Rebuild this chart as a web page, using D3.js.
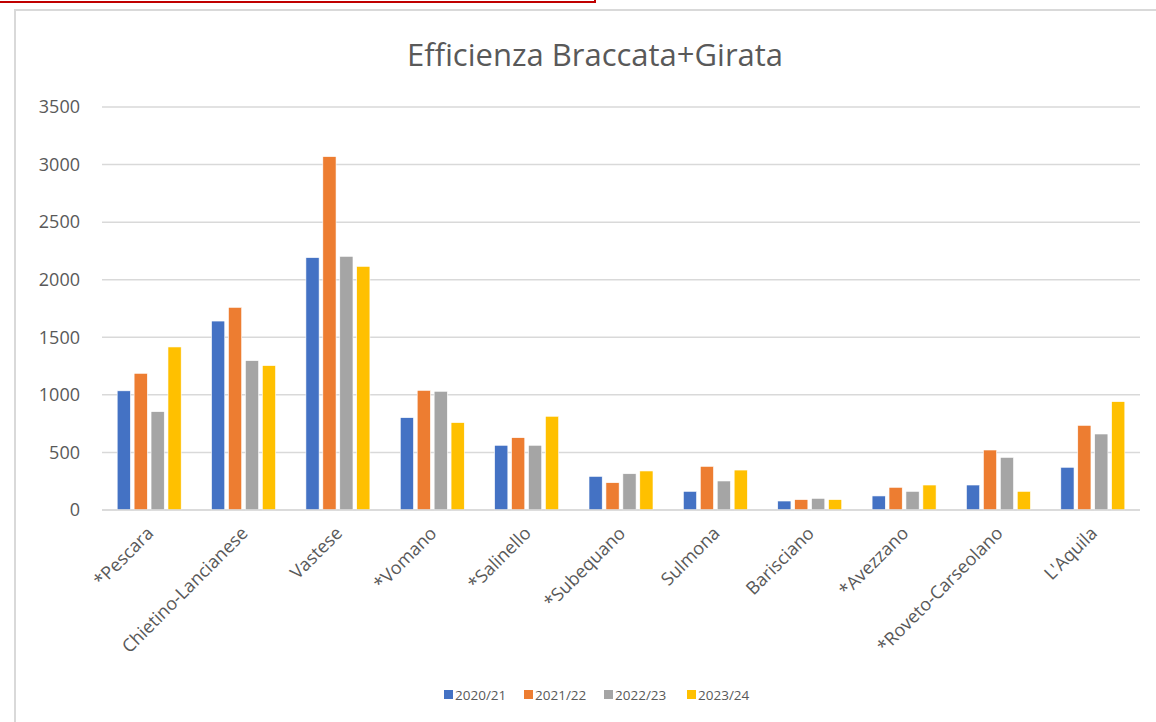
<!DOCTYPE html>
<html>
<head>
<meta charset="utf-8">
<script src="https://cdn.jsdelivr.net/npm/d3@7"></script>
<style>
  html, body { margin: 0; padding: 0; background: #fff; }
  svg { display: block; font-family: "Open Sans", "Noto Sans", sans-serif; }
</style>
</head>
<body>
<svg id="chart" width="1156" height="722"></svg>
<script>
const categories = ["*Pescara", "Chietino-Lancianese", "Vastese", "*Vomano", "*Salinello", "*Subequano", "Sulmona", "Barisciano", "*Avezzano", "*Roveto-Carseolano", "L'Aquila"];
const seriesNames = ["2020/21", "2021/22", "2022/23", "2023/24"];
const s2020 = [1035, 1641, 2192, 802, 562, 292, 162, 78, 122, 217, 371];
const s2021 = [1187, 1760, 3069, 1039, 628, 237, 379, 90, 197, 521, 735];
const s2022 = [854, 1297, 2203, 1031, 562, 315, 252, 101, 162, 457, 660];
const s2023 = [1416, 1254, 2116, 759, 814, 339, 347, 90, 217, 162, 941];
const yTicks = [0, 500, 1000, 1500, 2000, 2500, 3000, 3500];
const colors = ["#4472c4", "#ed7d31", "#a5a5a5", "#ffc000"];
const title = "Efficienza Braccata+Girata";

const seriesValues = [s2020, s2021, s2022, s2023];
const svg = d3.select("#chart");

// outer decorations
svg.append("line").attr("x1", 0).attr("x2", 595).attr("y1", 2).attr("y2", 2)
  .attr("stroke", "#c00000").attr("stroke-width", 2);
svg.append("line").attr("x1", 595).attr("x2", 595).attr("y1", 0).attr("y2", 3)
  .attr("stroke", "#c00000").attr("stroke-width", 2);
svg.append("rect").attr("x", 15).attr("y", 10).attr("width", 1200).attr("height", 800)
  .attr("fill", "#fff").attr("stroke", "#d9d9d9").attr("stroke-width", 2);

const plotLeft = 102, plotRight = 1140, plotTop = 107, plotBottom = 510;

const x = d3.scaleBand().domain(categories).range([plotLeft, plotRight]).paddingInner(0).paddingOuter(0);
const y = d3.scaleLinear().domain([0, 3500]).range([plotBottom, plotTop]);

// gridlines
svg.append("g").selectAll("line").data(yTicks).join("line")
  .attr("x1", plotLeft).attr("x2", plotRight)
  .attr("y1", d => y(d)).attr("y2", d => y(d))
  .attr("stroke", "#d9d9d9").attr("stroke-width", 1.5);

// y axis labels
const yAxis = d3.axisLeft(y).tickValues(yTicks).tickSize(0).tickPadding(0).tickFormat(d3.format("d"));
const gy = svg.append("g").attr("transform", `translate(80,0)`).call(yAxis);
gy.select(".domain").remove();
gy.selectAll("text").attr("fill", "#595959").style("font-size", "18px").style("font-family", "\"Open Sans\", sans-serif");

// bars
const groupW = 64;
const xs = d3.scaleBand().domain(seriesNames).range([0, groupW]).paddingInner(0.22).paddingOuter(0);
const groups = svg.append("g").selectAll("g").data(categories).join("g")
  .attr("transform", d => `translate(${x(d) + (x.bandwidth() - groupW) / 2},0)`);
groups.selectAll("rect").data((c, i) => seriesNames.map((s, j) => ({ s, j, v: seriesValues[j][i] })))
  .join("rect")
  .attr("x", d => xs(d.s))
  .attr("width", xs.bandwidth())
  .attr("y", d => y(d.v))
  .attr("height", d => y(0) - y(d.v))
  .attr("fill", d => colors[d.j])
  .attr("stroke", "#ffffff").attr("stroke-width", 0.6);

// baseline
svg.append("line").attr("x1", plotLeft).attr("x2", plotRight).attr("y1", y(0)).attr("y2", y(0))
  .attr("stroke", "#d9d9d9").attr("stroke-width", 1.5);

// x axis labels
const xAxis = d3.axisBottom(x).tickSize(0).tickPadding(0);
const gx = svg.append("g").attr("transform", `translate(0,${plotBottom})`).call(xAxis);
gx.select(".domain").remove();
gx.selectAll("text")
  .attr("fill", "#595959").style("font-size", "18px").style("font-family", "\"Open Sans\", sans-serif")
  .attr("text-anchor", "end").attr("dy", "0.35em")
  .attr("transform", "translate(1,20) rotate(-45)")
  .attr("y", 0).attr("x", 0);

// title
svg.append("text").attr("x", 595).attr("y", 66).attr("text-anchor", "middle")
  .attr("fill", "#595959").style("font-size", "31px").text(title);

// legend
const legendX = [444, 524, 604, 687];
const lg = svg.append("g").selectAll("g").data(seriesNames).join("g")
  .attr("transform", (d, i) => `translate(${legendX[i]},695)`);
lg.append("rect").attr("x", 0).attr("y", -5).attr("width", 9).attr("height", 9)
  .attr("fill", (d, i) => colors[i]);
lg.append("text").attr("x", 11).attr("y", 0).attr("dy", "0.35em")
  .attr("fill", "#595959").style("font-size", "13.5px").text(d => d);
</script>
</body>
</html>
